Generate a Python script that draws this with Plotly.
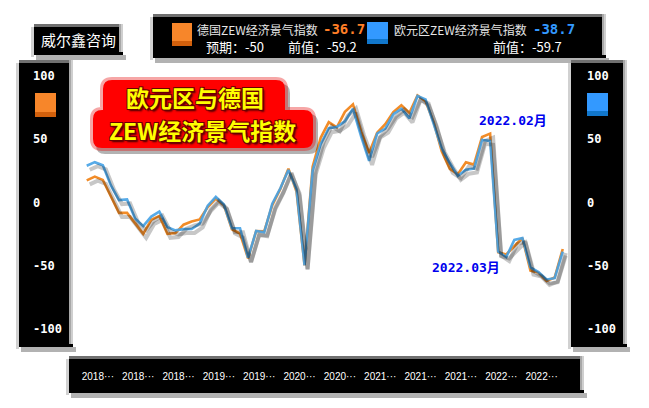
import plotly.graph_objects as go
import pandas as pd

# ---------------- data ----------------
months = [p.strftime("%Y-%m") for p in pd.period_range("2017-12", "2022-11", freq="M")]

germany_zew = [17.4,
               20.4, 17.8, 5.1, -8.2, -8.2, -16.1, -24.7, -13.7, -10.6, -24.7, -24.1, -17.5,
               -15.0, -13.4, -3.6, 3.1, -2.1, -21.1, -24.5, -44.1, -22.5, -22.8, -2.1, 10.7,
               26.7, 8.7, -49.5, 28.2, 51.0, 63.4, 59.3, 71.5, 77.4, 56.1, 39.0, 55.0,
               61.8, 71.2, 76.6, 70.7, 84.4, 79.8, 63.3, 40.4, 26.5, 22.3, 31.7, 29.9,
               51.7, 54.3, -39.3, -41.0, -34.3, -28.0, -53.8, -55.3, -61.9, -59.2, -36.7]

eurozone_zew = [29.0,
                31.8, 29.3, 13.4, 1.9, 2.4, -12.6, -18.7, -11.1, -7.2, -19.4, -22.0, -21.0,
                -20.9, -16.6, -2.5, 4.5, -1.6, -20.2, -20.3, -43.6, -22.4, -23.5, -1.0, 11.2,
                25.6, 10.4, -49.5, 25.2, 46.0, 58.6, 59.6, 64.0, 73.9, 52.3, 32.8, 54.4,
                58.3, 69.6, 74.0, 66.3, 84.0, 81.3, 61.2, 42.7, 31.1, 21.0, 25.9, 26.8,
                49.4, 48.6, -38.7, -43.0, -29.5, -28.0, -51.1, -54.9, -60.7, -59.7, -38.7]

tick_months = ["2018-02", "2018-07", "2018-12", "2019-05", "2019-10", "2020-03",
               "2020-08", "2021-01", "2021-06", "2021-11", "2022-04", "2022-09"]
y_ticks = [100, 50, 0, -50, -100]

series_names = ["德国ZEW经济景气指数", "欧元区ZEW经济景气指数"]
latest = ["-36.7", "-38.7"]
forecast_de = "-50"
previous = ["-59.2", "-59.7"]
title_lines = ["欧元区与德国", "ZEW经济景气指数"]
brand = "威尔鑫咨询"
marks = [("2022-02", "2022.02月"), ("2022-03", "2022.03月")]

# ---------------- geometry helpers ----------------
FW, FH = 649, 408
L, R, T, B = 73, 573, 62, 349
def px(x): return (x - L) / (R - L)
def py(y): return (B - y) / (B - T)

X_RANGE = [-1.70, 59.9]
Y_RANGE = [-112.4, 110.8]

ORANGE = "#F28C28"
BLUE = "#45A2E6"

shapes = []
def rect(x0, y0, x1, y1, color, layer="below"):
    shapes.append(dict(type="rect", xref="paper", yref="paper",
                       x0=px(x0), x1=px(x1), y0=py(y1), y1=py(y0),
                       fillcolor=color, line=dict(width=0), layer=layer))

def panel(x0, y0, x1, y1):
    rect(x0 - 3, y0 + 3, x0, y1 + 2, "rgba(0,0,0,0.18)")
    rect(x0 + 2, y1, x1 + 3, y1 + 5, "rgba(0,0,0,0.30)")
    rect(x0, y0, x1, y1, "#000000")
    rect(x0, y0, x1, y0 + 3, "#707070")
    rect(x1 - 4, y0, x1, y1 - 3, "#a8a8a8")
    rect(x1 - 2, y0, x1, y1 - 3, "#cfcfcf")

panel(34, 24, 123, 55)       # brand box
panel(153, 14, 606, 58)      # legend panel
panel(19, 60, 73, 347)       # left axis panel
panel(571, 60, 627, 347)     # right axis panel
panel(69, 356, 584, 393)     # bottom axis panel

# legend colour squares
rect(172, 23, 192, 41, "#F7862A", layer="above")
rect(172, 41, 192, 46, "#D2600C", layer="above")
rect(367, 22, 388, 39, "#3399FF", layer="above")
rect(367, 39, 388, 44, "#1177CC", layer="above")
# axis panel squares
rect(35, 93, 56, 112, "#F7862A", layer="above")
rect(35, 112, 56, 117, "#D2600C", layer="above")
rect(587, 93, 608, 111, "#3399FF", layer="above")
rect(587, 111, 608, 116, "#1177CC", layer="above")

# red title blob
def blob(dx=0.0, dy=0.0, g=0.0, r=9):
    ux0, ux1, uy0 = 103 - g + dx, 285 + g + dx, 80 - g + dy
    lx0, lx1, ly0, ly1 = 93 - g + dx, 313 + g + dx, 110 - g + dy, 148 + g + dy
    P = lambda x, y: f"{px(x):.5f},{py(y):.5f}"
    s = f"M{P(ux0 + r, uy0)} L{P(ux1 - r, uy0)} Q{P(ux1, uy0)} {P(ux1, uy0 + r)} "
    s += f"L{P(ux1, ly0)} L{P(lx1 - r, ly0)} Q{P(lx1, ly0)} {P(lx1, ly0 + r)} "
    s += f"L{P(lx1, ly1 - r)} Q{P(lx1, ly1)} {P(lx1 - r, ly1)} "
    s += f"L{P(lx0 + r, ly1)} Q{P(lx0, ly1)} {P(lx0, ly1 - r)} "
    s += f"L{P(lx0, ly0 + r)} Q{P(lx0, ly0)} {P(lx0 + r, ly0)} "
    s += f"L{P(ux0, ly0)} L{P(ux0, uy0 + r)} Q{P(ux0, uy0)} {P(ux0 + r, uy0)} Z"
    return s

for path, col in [(blob(4, 5, 1), "rgba(0,0,0,0.30)"),
                  (blob(0, 0, 3, 12), "rgba(230,0,0,0.35)"),
                  (blob(), "#FF0000")]:
    shapes.append(dict(type="path", xref="paper", yref="paper", path=path,
                       fillcolor=col, line=dict(width=0), layer="above"))

# ---------------- traces ----------------
fig = go.Figure()
shadow = dict(color="rgba(0,0,0,0.22)", width=4)
fig.add_trace(go.Scatter(x=months, y=germany_zew, mode="lines", line=shadow,
                         xaxis="x2", yaxis="y3", hoverinfo="skip"))
fig.add_trace(go.Scatter(x=months, y=eurozone_zew, mode="lines", line=shadow,
                         xaxis="x2", yaxis="y3", hoverinfo="skip"))
fig.add_trace(go.Scatter(x=months, y=germany_zew, mode="lines", name=series_names[0],
                         line=dict(color=ORANGE, width=2.6), xaxis="x", yaxis="y"))
fig.add_trace(go.Scatter(x=months, y=eurozone_zew, mode="lines", name=series_names[1],
                         line=dict(color=BLUE, width=2.6), opacity=0.9,
                         xaxis="x", yaxis="y2"))

# ---------------- annotations ----------------
ann = []
def text(x, y, t, size, color, family="Noto Sans CJK SC", anchor="left",
         weight="normal", shadow_css=None):
    f = dict(size=size, color=color, family=family, weight=weight)
    if shadow_css:
        f["shadow"] = shadow_css
    ann.append(dict(x=px(x), y=py(y), xref="paper", yref="paper", text=t,
                    showarrow=False, xanchor=anchor, yanchor="middle", font=f,
                    align="center"))

MONO = "DejaVu Sans Mono, Noto Sans CJK SC"
text(78, 40, brand, 15, "#FFFFFF", anchor="center")
text(195, 29, series_names[0], 12, "#E6E6E6")
text(321, 29, latest[0], 14, "#FF7F27", family=MONO, weight="bold")
text(392, 29, series_names[1], 12, "#E6E6E6")
text(531, 29, latest[1], 14, "#3399FF", family=MONO, weight="bold")
text(204, 46, "预期：" + forecast_de, 13, "#FFFFFF")
text(286, 46, "前值：" + previous[0], 13, "#FFFFFF")
text(491, 46, "前值：" + previous[1], 13, "#FFFFFF")

outline = ("1px 1px 0 #6a0000, -1px -1px 0 #6a0000, 1px -1px 0 #6a0000, "
           "-1px 1px 0 #6a0000, 2px 2px 2px #400000")
text(195, 96.5, title_lines[0], 23, "#FFFF00", anchor="center",
     weight="bold", shadow_css=outline)
text(202, 130, title_lines[1], 23, "#FFFF00", anchor="center",
     weight="bold", shadow_css=outline)

val = dict(zip(months, germany_zew))
for (m, label), (xs, ys) in zip(marks, [(23, 13), (-32, -15)]):
    ann.append(dict(x=m, y=val[m], xref="x", yref="y", text=label, showarrow=False,
                    xshift=xs, yshift=ys, xanchor="center", yanchor="middle",
                    font=dict(size=13, color="#0000EE", family=MONO, weight="bold")))

# ---------------- layout ----------------
nb = "\u00a0"
left_text = [str(v).ljust(4, nb) for v in y_ticks]
right_text = [str(v) for v in y_ticks]
tickfont_y = dict(family="DejaVu Sans Mono", size=12, color="#FFFFFF", weight="bold")
W = R - L
H = B - T
ydom_main = [4 / H, 1]
xdom_main = [0, (W - 3) / W]

common_y = dict(range=Y_RANGE, showgrid=False, zeroline=False, showline=False,
                ticks="", automargin=False, fixedrange=True)

fig.update_layout(
    width=FW, height=FH,
    margin=dict(l=L, r=FW - R, t=T, b=FH - B, pad=0),
    paper_bgcolor="#FFFFFF", plot_bgcolor="rgba(0,0,0,0)",
    showlegend=False,
    shapes=shapes, annotations=ann,
    xaxis=dict(type="category", categoryorder="array", categoryarray=months,
               range=X_RANGE, domain=xdom_main, anchor="y",
               tickmode="array", tickvals=tick_months,
               ticktext=[m[:4] + "···" for m in tick_months],
               tickfont=dict(family="Liberation Sans", size=10, color="#FFFFFF"),
               ticklabelstandoff=24, ticklabelshift=-5,
               showgrid=False, zeroline=False, showline=False, ticks="",
               automargin=False),
    yaxis=dict(domain=ydom_main, anchor="x", tickmode="array", tickvals=y_ticks,
               ticktext=left_text, tickfont=tickfont_y, ticklabelstandoff=10,
               side="left", **common_y),
    yaxis2=dict(overlaying="y", anchor="x", side="right", tickmode="array",
                tickvals=y_ticks, ticktext=right_text, tickfont=tickfont_y,
                ticklabelstandoff=16, **common_y),
    xaxis2=dict(type="category", categoryorder="array", categoryarray=months,
                range=X_RANGE, domain=[3 / W, 1], anchor="y3", visible=False),
    yaxis3=dict(range=Y_RANGE, domain=[0, (H - 4) / H], anchor="x2", visible=False),
)

fig.write_html("out.html", config={"displayModeBar": False},
               post_script="document.body.style.margin='0';document.body.style.overflow='hidden';")
